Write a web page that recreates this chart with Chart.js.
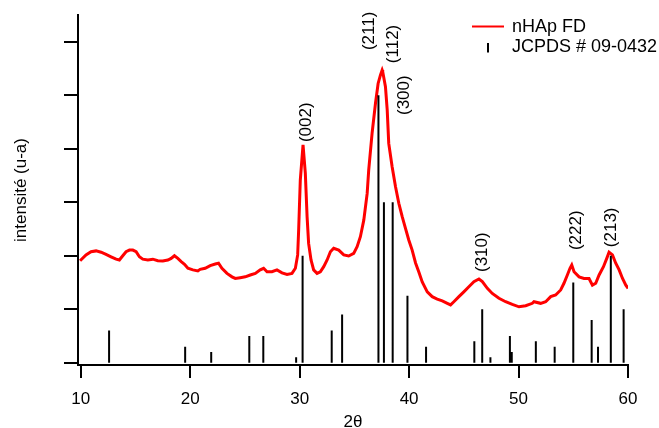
<!DOCTYPE html>
<html><head><meta charset="utf-8">
<script src="https://cdn.jsdelivr.net/npm/chart.js@4/dist/chart.umd.min.js"></script>
<style>html,body{margin:0;padding:0;background:#fff;overflow:hidden}#wrap{width:659px;height:428px}</style>
</head><body><div id="wrap"><canvas id="c" width="659" height="428"></canvas></div>
<script>
// ---- data ----
const twoTheta = [9.94,10.48,10.94,11.40,11.86,12.31,12.77,13.23,13.53,13.84,14.14,14.45,14.76,15.06,15.36,15.67,16.13,16.59,17.04,17.50,17.96,18.26,18.56,18.87,19.18,19.48,19.79,20.25,20.70,20.91,21.37,21.83,22.29,22.59,22.90,23.36,23.82,24.12,24.57,25.03,25.49,25.95,26.40,26.71,27.02,27.47,27.93,28.39,28.85,29.30,29.61,29.82,29.91,30.06,30.31,30.52,30.68,30.82,31.04,31.28,31.59,31.89,32.20,32.51,32.81,33.11,33.57,34.03,34.48,34.94,35.25,35.55,35.86,36.17,36.31,36.62,36.93,37.17,37.38,37.54,37.59,37.84,38.00,38.14,38.45,38.76,39.06,39.37,39.67,39.97,40.28,40.59,40.89,41.20,41.66,42.11,42.57,43.03,43.49,43.79,44.09,44.55,45.00,45.46,45.92,46.38,46.69,47.15,47.60,48.21,48.82,49.43,50.04,50.65,51.26,51.41,52.02,52.48,52.94,53.39,53.85,54.15,54.46,54.70,54.86,55.07,55.53,55.98,56.44,56.75,57.05,57.36,57.76,58.06,58.27,58.58,58.88,59.19,59.50,59.80,60.01];
const intensityFD = [38.1,40.3,41.5,41.8,41.3,40.5,39.6,38.7,38.4,40.0,41.5,42.1,42.1,41.5,39.6,38.7,38.4,38.7,38.1,38.0,38.4,39.0,40.0,39.0,37.8,36.8,35.3,34.7,34.3,34.9,35.3,36.3,36.9,37.2,35.3,33.4,32.1,31.5,31.8,32.1,32.8,33.4,34.7,35.3,34.0,34.0,34.7,33.6,33.0,33.4,35.3,40.3,49.6,68.3,81.4,70.8,54.6,44.6,38.4,34.7,33.4,34.0,35.9,38.4,41.5,42.8,42.1,40.3,39.9,40.9,43.4,47.1,53.3,63.3,72.0,85.8,97.0,104.4,107.5,109.4,108.8,103.2,94.5,82.0,73.3,65.8,59.6,54.6,50.2,45.9,42.1,37.3,33.9,30.2,26.5,24.7,23.8,23.1,22.2,21.6,22.8,24.7,26.5,28.4,30.3,31.3,30.3,27.8,25.9,24.1,22.8,21.8,20.9,21.3,22.2,22.8,22.2,22.8,24.7,25.3,27.2,29.7,32.8,35.3,36.5,34.0,32.1,31.5,31.5,29.0,29.7,32.8,35.9,39.0,41.3,40.3,37.2,34.7,31.5,29.0,27.8];

const jcpdsAngles = [12.59,19.54,21.92,25.40,26.68,29.68,30.27,32.93,33.88,37.20,37.70,38.50,39.85,41.55,45.96,46.68,47.43,49.21,49.38,51.58,53.30,55.00,56.68,57.26,58.43,59.60];
const jcpdsIntensity = [12,6,4,10,10,2,40,12,18,100,60,60,25,6,8,20,2,10,4,8,6,30,16,6,40,20];

const hklLabels = ['(002)','(211)','(112)','(300)','(310)','(222)','(213)'];
const hklAngles = [30.64,36.38,38.57,39.58,46.72,55.32,58.52];
const hklBase   = [82.5,116.9,112.0,92.6,33.9,42.1,43.2];

const xTickValues = [10,20,30,40,50,60];
const yTickValues = [0,20,40,60,80,100,120];

const seriesNames = ['nHAp FD','JCPDS # 09-0432'];
const xTitle = '2\u03B8';
const yTitle = 'intensit\u00E9 (u-a)';

// ---- build datasets ----
const fdPoints = twoTheta.map((t,i)=>({x:t,y:intensityFD[i]}));
const stickPoints = [];
jcpdsAngles.forEach((a,i)=>{
  stickPoints.push({x:a,y:0},{x:a,y:jcpdsIntensity[i]},{x:a,y:null});
});

const FONT = 'Liberation Sans, Arial, sans-serif';

const annotPlugin = {
  id:'annot',
  afterDatasetsDraw(chart){
    const ctx = chart.ctx, xs = chart.scales.x, ys = chart.scales.y;
    ctx.save();
    ctx.fillStyle = '#000';
    ctx.font = '17px ' + FONT;
    ctx.textAlign = 'left';
    ctx.textBaseline = 'middle';
    hklLabels.forEach((lab,i)=>{
      const px = xs.getPixelForValue(hklAngles[i]);
      const py = ys.getPixelForValue(hklBase[i]);
      ctx.save();
      ctx.translate(px,py);
      ctx.rotate(-Math.PI/2);
      ctx.fillText(lab,0,0);
      ctx.restore();
    });
    // legend
    ctx.font = '18px ' + FONT;
    ctx.strokeStyle = '#ff0000';
    ctx.lineWidth = 2;
    ctx.beginPath(); ctx.moveTo(472,26.5); ctx.lineTo(504,26.5); ctx.stroke();
    ctx.fillText(seriesNames[0],512,27);
    ctx.strokeStyle = '#000';
    ctx.beginPath(); ctx.moveTo(488,43); ctx.lineTo(488,52.5); ctx.stroke();
    ctx.fillText(seriesNames[1],512,47);
    ctx.restore();
  }
};

new Chart(document.getElementById('c'),{
  type:'line',
  data:{datasets:[
    {label:seriesNames[1],data:stickPoints,borderColor:'#000',borderWidth:2,pointRadius:0,spanGaps:false,tension:0,order:0},
    {label:seriesNames[0],data:fdPoints,borderColor:'#ff0000',borderWidth:3,pointRadius:0,tension:0,order:1}
  ]},
  options:{
    responsive:false,animation:false,devicePixelRatio:1,
    layout:{padding:{top:15,right:31,left:0,bottom:0}},
    plugins:{legend:{display:false},tooltip:{enabled:false}},
    scales:{
      x:{type:'linear',min:9.75,max:60,
        afterBuildTicks(s){s.ticks=xTickValues.map(v=>({value:v}));},
        afterFit(s){s.height=63;},
        ticks:{color:'#000',font:{family:FONT,size:17},padding:11,maxRotation:0,callback:v=>String(v)},
        grid:{drawOnChartArea:false,drawTicks:true,tickLength:13,color:'#000',lineWidth:2},
        border:{display:true,color:'#000',width:2},
        title:{display:true,text:xTitle,color:'#000',font:{family:FONT,size:17},padding:{top:0,bottom:-5}}
      },
      y:{type:'linear',min:-0.86,max:130,
        afterBuildTicks(s){s.ticks=yTickValues.map(v=>({value:v}));},
        afterFit(s){s.width=78;},
        ticks:{display:false},
        grid:{drawOnChartArea:false,drawTicks:true,tickLength:14,color:'#000',lineWidth:2},
        border:{display:true,color:'#000',width:2},
        title:{display:true,text:yTitle,color:'#000',font:{family:FONT,size:17},padding:{top:11,bottom:0}}
      }
    }
  },
  plugins:[annotPlugin]
});
</script>
</body></html>
